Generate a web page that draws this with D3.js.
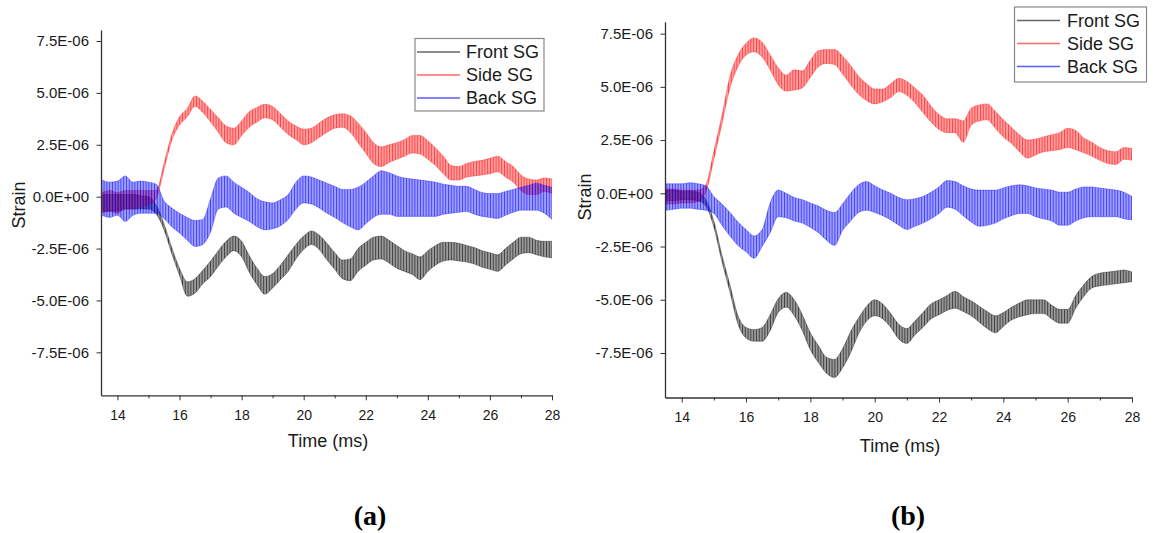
<!DOCTYPE html>
<html><head><meta charset="utf-8">
<script src="https://cdn.jsdelivr.net/npm/d3@7"></script>
<style>
body{margin:0;background:#fff;}
svg{display:block;font-family:"Liberation Sans",Arial,sans-serif;}
</style></head><body>
<svg id="chart" width="1155" height="533"></svg>
<script>
// Time samples (ms)
const timeMs = [13.5,13.75,
 14,14.25,14.5,14.75, 15,15.25,15.5,15.75, 16,16.25,16.5,16.75, 17,17.25,17.5,17.75,
 18,18.25,18.5,18.75, 19,19.25,19.5,19.75, 20,20.25,20.5,20.75, 21,21.25,21.5,21.75,
 22,22.25,22.5,22.75, 23,23.25,23.5,23.75, 24,24.25,24.5,24.75, 25,25.25,25.5,25.75,
 26,26.25,26.5,26.75, 27,27.25,27.5,27.75,
 28];
const xTicks = [14,16,18,20,22,24,26,28];
const xMinorTicks = [15,17,19,21,23,25,27];
const yTicks = [-7.5,-5,-2.5,0,2.5,5,7.5];          // microstrain
const yTickLabels = ["-7.5E-06","-5.0E-06","-2.5E-06","0.0E+00","2.5E-06","5.0E-06","7.5E-06"];
const seriesNames = ["Front SG","Side SG","Back SG"];
const panelTags = ["(a)","(b)"];

// Panel (a): upper / lower envelope of each oscillating trace (microstrain)
const frontA_hi = [0.1,0.1,
 0.1,0.1,0.1,0.05, 0.0,-0.4,-1.3,-2.45, -3.45,-4.1,-3.95,-3.55, -3.1,-2.6,-2.15,-1.9,
 -2.15,-2.85,-3.45,-3.85, -3.7,-3.3,-2.8,-2.3, -1.9,-1.65,-1.85,-2.25, -2.7,-3.05,-3.0,-2.5,
 -2.2,-1.95,-1.9,-2.1, -2.35,-2.6,-2.75,-2.9, -2.6,-2.35,-2.2,-2.2, -2.25,-2.35,-2.45,-2.6,
 -2.7,-2.8,-2.5,-2.2, -1.95,-1.95,-2.1,-2.15,
 -2.15];
const frontA_lo = [-0.7,-0.7,
 -0.7,-0.6,-0.6,-0.6, -0.6,-0.85,-1.6,-2.75, -3.8,-4.8,-4.65,-4.2, -3.85,-3.35,-2.9,-2.6,
 -2.9,-3.65,-4.25,-4.7, -4.4,-4.0,-3.6,-3.0, -2.55,-2.3,-2.55,-3.05, -3.5,-3.95,-4.05,-3.6,
 -3.3,-3.05,-3.0,-3.2, -3.45,-3.6,-3.75,-4.0, -3.6,-3.3,-3.1,-3.05, -3.1,-3.15,-3.25,-3.4,
 -3.5,-3.6,-3.3,-3.0, -2.75,-2.7,-2.8,-2.9,
 -2.95];
const sideA_hi = [0.2,0.3,
 0.2,0.3,0.3,0.3, 0.3,0.3,1.6,3.0, 3.85,4.25,4.85,4.6, 4.2,3.8,3.4,3.3,
 3.65,4.1,4.3,4.45, 4.35,4.0,3.65,3.4, 3.25,3.3,3.55,3.8, 3.95,4.0,3.9,3.55,
 3.1,2.6,2.4,2.5, 2.6,2.75,2.95,2.95, 2.7,2.35,1.95,1.5, 1.45,1.6,1.7,1.75,
 1.85,1.95,1.7,1.45, 1.05,0.85,0.8,0.9,
 0.85];
const sideA_lo = [-0.8,-0.7,
 -0.8,-0.6,-0.6,-0.5, -0.4,-0.1,1.3,2.7, 3.45,3.85,4.35,4.05, 3.6,3.1,2.6,2.5,
 2.95,3.35,3.6,3.8, 3.7,3.35,3.0,2.75, 2.5,2.6,2.85,3.1, 3.3,3.35,3.1,2.6,
 2.1,1.6,1.45,1.65, 1.8,1.95,2.1,2.05, 1.8,1.5,1.1,0.8, 0.8,0.95,1.0,1.05,
 1.1,1.2,0.95,0.7, 0.3,0.1,0.1,0.25,
 0.15];
const backA_hi = [0.8,0.7,
 0.75,1.0,0.7,0.75, 0.7,0.6,-0.2,-0.55, -0.8,-1.0,-1.15,-1.1, -0.1,0.9,1.0,0.7,
 0.45,0.2,-0.1,-0.25, -0.3,-0.15,0.1,0.7, 1.0,0.95,0.8,0.65, 0.5,0.35,0.35,0.45,
 0.7,1.0,1.25,1.15, 1.0,0.9,0.85,0.8, 0.75,0.7,0.6,0.55, 0.5,0.5,0.35,0.2,
 0.15,0.15,0.25,0.35, 0.45,0.55,0.65,0.55,
 0.45];
const backA_lo = [-0.9,-1.0,
 -0.9,-1.2,-0.9,-0.8, -0.8,-0.8,-1.05,-1.45, -1.75,-2.1,-2.4,-2.3, -1.7,-0.6,-0.5,-0.8,
 -1.0,-1.2,-1.45,-1.6, -1.55,-1.4,-1.1,-0.6, -0.3,-0.35,-0.55,-0.8, -1.0,-1.25,-1.45,-1.6,
 -1.3,-1.0,-0.85,-0.85, -0.95,-0.95,-0.95,-0.95, -0.95,-0.95,-0.85,-0.8, -0.75,-0.72,-0.85,-0.95,
 -1.0,-1.05,-0.9,-0.75, -0.65,-0.65,-0.65,-0.8,
 -1.1];

// Panel (b)
const frontB_hi = [0.15,0.15,
 0.1,0.1,0.05,-0.3, -1.3,-2.9,-4.3,-5.75, -6.3,-6.4,-6.3,-5.7, -4.95,-4.65,-5.0,-5.7,
 -6.55,-7.15,-7.7,-7.8, -7.3,-6.5,-5.85,-5.3, -5.0,-5.2,-5.65,-6.15, -6.35,-6.0,-5.6,-5.2,
 -5.0,-4.8,-4.6,-4.85, -5.05,-5.3,-5.55,-5.75, -5.6,-5.35,-5.15,-5.0, -5.0,-5.0,-5.25,-5.45,
 -5.45,-4.8,-4.3,-3.9, -3.75,-3.7,-3.65,-3.6,
 -3.7];
const frontB_lo = [-0.35,-0.35,
 -0.3,-0.3,-0.35,-0.6, -1.6,-3.2,-4.65,-6.15, -6.8,-6.95,-6.95,-6.45, -5.6,-5.35,-5.75,-6.45,
 -7.35,-7.95,-8.45,-8.65, -8.2,-7.5,-6.6,-6.0, -5.75,-5.9,-6.3,-6.85, -7.05,-6.65,-6.3,-5.9,
 -5.7,-5.5,-5.4,-5.55, -5.75,-6.05,-6.35,-6.55, -6.25,-5.95,-5.8,-5.7, -5.65,-5.65,-5.9,-6.1,
 -6.1,-5.4,-4.85,-4.45, -4.35,-4.3,-4.25,-4.2,
 -4.15];
const sideB_hi = [0.2,0.2,
 0.15,0.15,0.15,0.4, 2.0,3.65,5.5,6.5, 7.05,7.3,7.1,6.5, 5.9,5.55,5.8,5.75,
 6.25,6.7,6.75,6.75, 6.45,6.0,5.5,5.15, 4.9,4.9,5.15,5.4, 5.25,4.95,4.6,4.1,
 3.7,3.5,3.5,3.4, 4.0,4.15,4.2,3.85, 3.45,3.1,2.75,2.5, 2.55,2.65,2.75,2.85,
 3.05,2.95,2.6,2.4, 2.15,2.0,1.95,2.15,
 2.1];
const sideB_lo = [-0.5,-0.5,
 -0.45,-0.45,-0.4,0.05, 1.6,3.25,4.95,5.95, 6.5,6.65,6.4,5.8, 5.1,4.8,4.85,4.95,
 5.45,5.95,6.1,6.05, 5.6,5.1,4.65,4.35, 4.2,4.3,4.5,4.78, 4.6,4.25,3.8,3.35,
 3.0,2.85,2.85,2.4, 3.2,3.4,3.45,3.05, 2.65,2.35,1.95,1.65, 1.8,1.95,2.0,2.05,
 2.15,2.05,1.9,1.75, 1.55,1.4,1.35,1.6,
 1.55];
const backB_hi = [0.45,0.45,
 0.45,0.5,0.45,0.35, -0.15,-0.5,-0.9,-1.35, -1.7,-2.0,-1.7,-0.45, 0.15,0.0,-0.2,-0.3,
 -0.45,-0.6,-0.8,-0.9, -0.5,0.0,0.4,0.55, 0.35,0.15,0.0,-0.2, -0.3,-0.25,-0.15,0.05,
 0.3,0.6,0.55,0.35, 0.2,0.15,0.15,0.15, 0.25,0.35,0.4,0.35, 0.25,0.2,0.15,0.05,
 0.05,0.2,0.3,0.3, 0.25,0.2,0.15,0.05,
 -0.15];
const backB_lo = [-0.8,-0.75,
 -0.7,-0.7,-0.75,-0.8, -0.95,-1.5,-2.0,-2.45, -2.75,-3.05,-2.5,-1.85, -1.1,-1.15,-1.3,-1.4,
 -1.6,-1.85,-2.2,-2.45, -1.75,-1.3,-0.9,-0.8, -0.9,-1.05,-1.25,-1.5, -1.7,-1.55,-1.4,-1.2,
 -0.95,-0.65,-0.75,-1.05, -1.35,-1.55,-1.5,-1.4, -1.2,-1.05,-0.95,-0.95, -1.1,-1.2,-1.3,-1.5,
 -1.5,-1.3,-1.15,-1.1, -1.1,-1.1,-1.1,-1.2,
 -1.25];

// ---------- styling ----------
const seriesColors = ["#000000","#ff0000","#0000ff"];
const legendColors = ["#666666","#ff6a6a","#5a5aff"];
const bgOpacity = [0.4,0.38,0.38];

const panels = [
  {tag:panelTags[0], xDomain:[13.47,28], xRange:[101,552], yDomain:[-9.57,8.03], yRange:[395.3,30],
   series:[[frontA_hi,frontA_lo],[sideA_hi,sideA_lo],[backA_hi,backA_lo]],
   legend:{x:415,y:38.5,w:129,h:72.5,lineX:[417,460],textX:466},
   xLabel:[328,447], yLabel:[25,205], tagPos:[370,525], xTickBase:420.5},
  {tag:panelTags[1], xDomain:[13.48,28], xRange:[665,1132], yDomain:[-9.59,8.06], yRange:[397.5,21.7],
   series:[[frontB_hi,frontB_lo],[sideB_hi,sideB_lo],[backB_hi,backB_lo]],
   legend:{x:1014.5,y:7,w:132,h:75,lineX:[1017,1060],textX:1067},
   xLabel:[900,452], yLabel:[591,197], tagPos:[908,525], xTickBase:423}
];

const svg = d3.select("#chart");
const defs = svg.append("defs");
seriesColors.forEach((c,k)=>{
  const p = defs.append("pattern").attr("id","hatch"+k).attr("patternUnits","userSpaceOnUse")
    .attr("width",2.8).attr("height",20);
  p.append("rect").attr("width",2.8).attr("height",20).attr("fill",c).attr("fill-opacity",bgOpacity[k]);
  p.append("rect").attr("width",0.9).attr("height",20).attr("fill",c).attr("fill-opacity",0.6);
});

panels.forEach((P,pi)=>{
  const x = d3.scaleLinear().domain(P.xDomain).range(P.xRange);
  const y = d3.scaleLinear().domain(P.yDomain).range(P.yRange);
  const g = svg.append("g");

  defs.append("clipPath").attr("id","clip"+pi).append("rect")
    .attr("x",P.xRange[0]).attr("y",P.yRange[1])
    .attr("width",P.xRange[1]-P.xRange[0]).attr("height",P.yRange[0]-P.yRange[1]);
  const plot = g.append("g").attr("clip-path",`url(#clip${pi})`);
  const idx = d3.range(timeMs.length);

  P.series.forEach(([hi,lo],k)=>{
    const area = d3.area().curve(d3.curveMonotoneX)
      .x(i=>x(timeMs[i])).y0(i=>y(lo[i])).y1(i=>y(hi[i]));
    plot.append("path").datum(idx).attr("d",area).attr("fill",`url(#hatch${k})`).attr("stroke","none");
    [hi,lo].forEach(arr=>{
      const line = d3.line().curve(d3.curveMonotoneX).x(i=>x(timeMs[i])).y(i=>y(arr[i]));
      plot.append("path").datum(idx).attr("d",line).attr("fill","none")
        .attr("stroke",seriesColors[k]).attr("stroke-width",0.8).attr("stroke-opacity",0.4);
    });
  });

  // axes
  const ax = g.append("g").attr("transform",`translate(0,${P.yRange[0]})`)
    .call(d3.axisBottom(x).tickValues(xTicks).tickFormat(d3.format("d")).tickSize(5).tickPadding(10).tickSizeOuter(0));
  const axm = g.append("g").attr("transform",`translate(0,${P.yRange[0]})`)
    .call(d3.axisBottom(x).tickValues(xMinorTicks).tickFormat("").tickSize(3).tickSizeOuter(0));
  axm.select(".domain").remove();
  const ay = g.append("g").attr("transform",`translate(${P.xRange[0]},0)`)
    .call(d3.axisLeft(y).tickValues(yTicks).tickFormat((d,i)=>yTickLabels[i]).tickSize(4.5).tickPadding(7.5).tickSizeOuter(0));
  [ax,axm,ay].forEach(a=>{
    a.selectAll(".domain").attr("stroke","#333").attr("stroke-width",1.3);
    a.selectAll(".tick line").attr("stroke","#333").attr("stroke-width",1);
    a.selectAll("text").attr("fill","#1a1a1a").attr("font-family","'Liberation Sans',Arial,sans-serif");
  });
  ax.selectAll("text").attr("font-size",14);
  ay.selectAll("text").attr("font-size",15);

  // axis titles
  g.append("text").attr("x",P.xLabel[0]).attr("y",P.xLabel[1]).attr("text-anchor","middle")
    .attr("font-size",18).attr("fill","#1a1a1a").text("Time (ms)");
  g.append("text").attr("transform",`translate(${P.yLabel[0]},${P.yLabel[1]}) rotate(-90)`)
    .attr("text-anchor","middle").attr("font-size",18).attr("fill","#1a1a1a").text("Strain");

  // legend
  const L = P.legend;
  const lg = g.append("g");
  lg.append("rect").attr("x",L.x).attr("y",L.y).attr("width",L.w).attr("height",L.h)
    .attr("fill","#fff").attr("stroke","#888").attr("stroke-width",1.2);
  seriesNames.forEach((name,k)=>{
    const ry = L.y + 13.5 + k*23;
    lg.append("line").attr("x1",L.lineX[0]).attr("x2",L.lineX[1]).attr("y1",ry).attr("y2",ry)
      .attr("stroke",legendColors[k]).attr("stroke-width",1.3);
    lg.append("text").attr("x",L.textX).attr("y",ry).attr("dy","0.36em")
      .attr("font-size",18).attr("fill","#1a1a1a").text(name);
  });

  // panel tag
  g.append("text").attr("x",P.tagPos[0]).attr("y",P.tagPos[1]).attr("text-anchor","middle")
    .attr("font-family","'Liberation Serif','Times New Roman',serif").attr("font-weight","bold")
    .attr("font-size",28).attr("fill","#000").text(P.tag);
});
</script>
</body></html>
